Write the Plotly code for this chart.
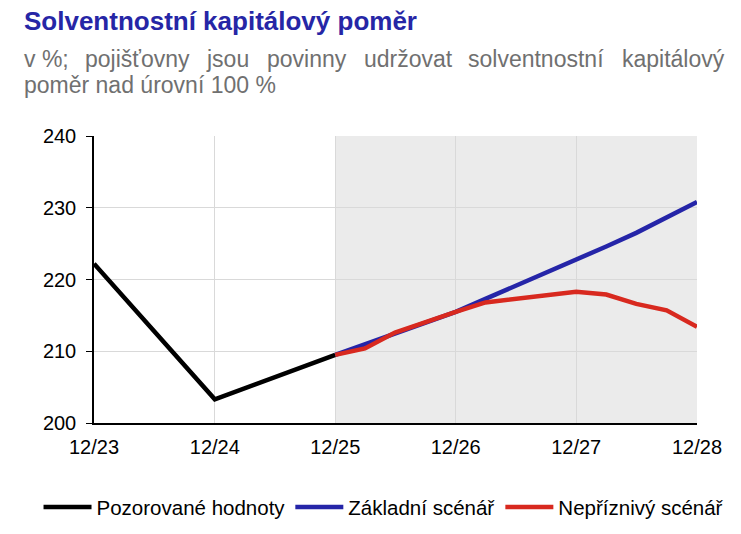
import plotly.graph_objects as go

# observed values (year-end)
obs_dates = ['2023-12-31', '2024-12-31', '2025-12-31']
obs_values = [222.2, 203.3, 209.5]

# scenario values (quarterly, 12/25 - 12/28)
scen_dates = ['2025-12-31', '2026-03-31', '2026-06-30', '2026-09-30', '2026-12-31',
              '2027-03-31', '2027-06-30', '2027-09-30', '2027-12-31',
              '2028-03-31', '2028-06-30', '2028-09-30', '2028-12-31']
base_values = [209.5, 211.0, 212.6, 214.0, 215.5,
               217.3, 219.1, 220.9, 222.7,
               224.6, 226.5, 228.7, 230.8]
adverse_values = [209.5, 210.4, 212.6, 214.1, 215.5,
                  216.8, 217.3, 217.9, 218.3,
                  217.9, 216.6, 215.7, 213.4]

tick_vals = ['2023-12-31', '2024-12-31', '2025-12-31', '2026-12-31', '2027-12-31', '2028-12-31']
tick_text = ['12/23', '12/24', '12/25', '12/26', '12/27', '12/28']

FONT = 'Liberation Sans, Arial, sans-serif'
OFF = 8  # page margin of the html body

fig = go.Figure()
fig.add_trace(go.Scatter(x=obs_dates, y=obs_values, mode='lines', name='Pozorované hodnoty',
                         line=dict(color='#000000', width=4.5)))
fig.add_trace(go.Scatter(x=scen_dates, y=base_values, mode='lines', name='Základní scénář',
                         line=dict(color='#2525a8', width=4.5)))
fig.add_trace(go.Scatter(x=scen_dates, y=adverse_values, mode='lines', name='Nepříznivý scénář',
                         line=dict(color='#d8291f', width=4.5)))

# shaded forecast period
fig.add_shape(type='rect', xref='x', yref='paper', x0=tick_vals[2], x1=tick_vals[-1],
              y0=0, y1=1, fillcolor='#ebebeb', line=dict(width=0), layer='below')

fig.update_layout(
    width=741 - OFF,
    height=534 - OFF,
    margin=dict(l=94 - OFF, r=44, t=136 - OFF, b=111, autoexpand=False),
    paper_bgcolor='white',
    plot_bgcolor='white',
    font=dict(family=FONT, size=20, color='#000000'),
    showlegend=True,
    legend=dict(orientation='h', x=-0.092, xanchor='left', y=-0.293, yanchor='middle',
                font=dict(size=20.5), itemwidth=48, tracegroupgap=0, bgcolor='rgba(0,0,0,0)'),
    xaxis=dict(range=[tick_vals[0], tick_vals[-1]], tickvals=tick_vals, ticktext=tick_text,
               showgrid=True, gridcolor='#d9d9d9', gridwidth=1,
               showline=True, linecolor='#000000', linewidth=1.5,
               ticks='outside', ticklen=5, tickcolor='rgba(0,0,0,0)',
               tickfont=dict(size=20), zeroline=False, automargin=False),
    yaxis=dict(range=[200, 240], dtick=10, showgrid=True, gridcolor='#d9d9d9', gridwidth=1,
               showline=True, linecolor='#000000', linewidth=1.5,
               ticks='outside', ticklen=6, tickcolor='#000000', ticklabelstandoff=6,
               tickfont=dict(size=20), zeroline=False, automargin=False),
)

# title
fig.add_annotation(text='<b>Solventnostní kapitálový poměr</b>', xref='paper', yref='paper',
                   x=(22 - 94) / 603, y=1 + (136 - 21) / 287, xanchor='left', yanchor='middle',
                   showarrow=False, font=dict(family=FONT, size=26, color='#2626a6'))

# subtitle, first line justified word by word
sub_words = ['v %;', 'pojišťovny', 'jsou', 'povinny', 'udržovat', 'solventnostní', 'kapitálový']
sub_word_x = [22, 83, 204, 265, 362, 466, 620]
for word, px in zip(sub_words, sub_word_x):
    fig.add_annotation(text=word, xref='paper', yref='paper',
                       x=(px - 94) / 603, y=1 + (136 - 59) / 287, xanchor='left', yanchor='middle',
                       showarrow=False, font=dict(family=FONT, size=23, color='#707070'))
fig.add_annotation(text='poměr nad úrovní 100 %', xref='paper', yref='paper',
                   x=(22 - 94) / 603, y=1 + (136 - 85) / 287, xanchor='left', yanchor='middle',
                   showarrow=False, font=dict(family=FONT, size=23, color='#707070'))

fig.write_html('out.html')
